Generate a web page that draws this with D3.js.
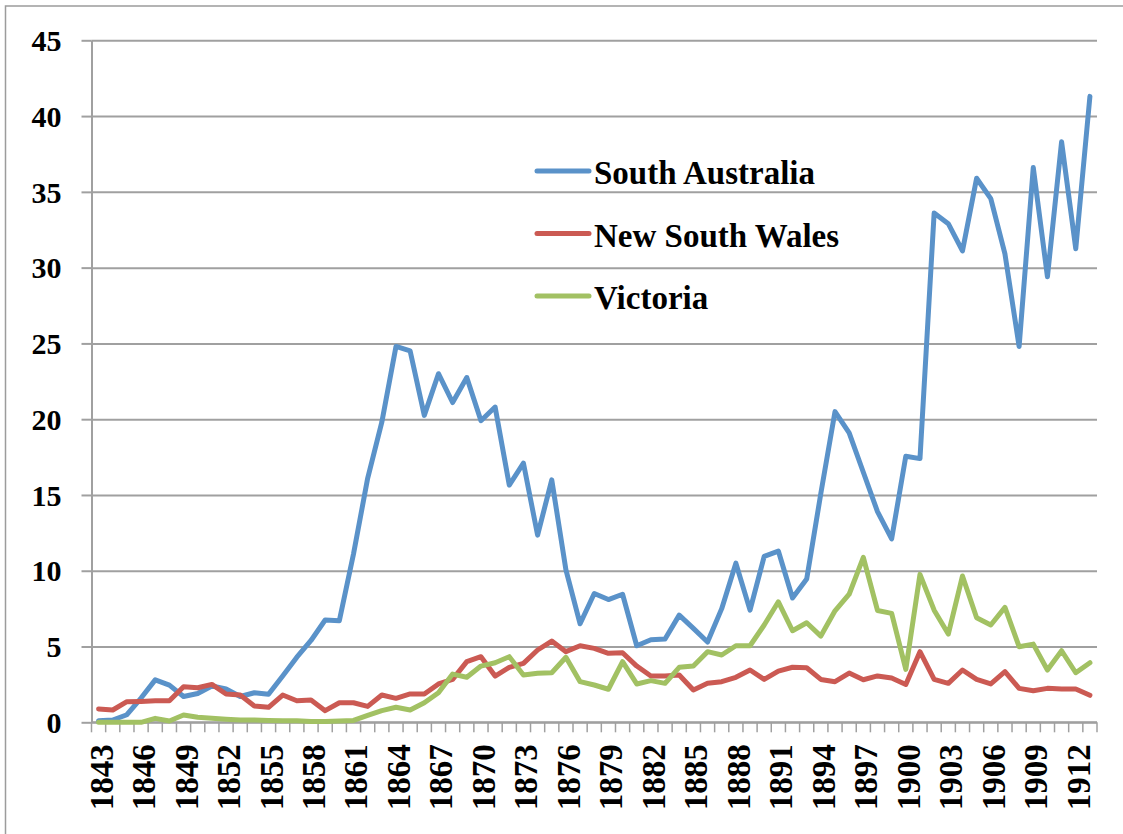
<!DOCTYPE html>
<html>
<head>
<meta charset="utf-8">
<script src="https://cdn.jsdelivr.net/npm/d3@7"></script>
<style>
  body { margin: 0; background: #fff; }
  svg text { font-family: "Liberation Serif", serif; font-weight: bold; fill: #000; }
</style>
</head>
<body>
<div id="chart"></div>
<script>
// years 1843 - 1913
var years = [];
for (var yr = 1843; yr <= 1913; yr++) years.push(yr);

var yTicks = [0, 5, 10, 15, 20, 25, 30, 35, 40, 45];
var xLabels = [1843, 1846, 1849, 1852, 1855, 1858, 1861, 1864, 1867, 1870, 1873, 1876,
  1879, 1882, 1885, 1888, 1891, 1894, 1897, 1900, 1903, 1906, 1909, 1912];

var seriesNames = ['South Australia', 'New South Wales', 'Victoria'];
var seriesColors = ['#5a92c9', '#cb5a53', '#a2c163'];

var southAustralia = [0.1, 0.15, 0.5, 1.6, 2.8, 2.45, 1.7, 1.9, 2.4, 2.2,
  1.7, 1.95, 1.85, 3.05, 4.3, 5.4, 6.75, 6.7, 11.1, 16.1,
  19.8, 24.8, 24.5, 20.25, 23.0, 21.1, 22.75, 19.9, 20.8, 15.65,
  17.1, 12.35, 16.0, 10.05, 6.5, 8.5, 8.1, 8.45, 5.05, 5.45,
  5.5, 7.07, 6.2, 5.3, 7.5, 10.5, 7.4, 10.95, 11.3, 8.2,
  9.45, 15.1, 20.5, 19.1, 16.5, 13.9, 12.1, 17.56, 17.4, 33.6,
  32.9, 31.1, 35.9, 34.55, 30.9, 24.8, 36.6, 29.4, 38.3, 31.25,
  41.3];

var newSouthWales = [0.88, 0.81, 1.36, 1.38, 1.42, 1.42, 2.35, 2.28, 2.5, 1.87,
  1.8, 1.07, 0.99, 1.8, 1.42, 1.47, 0.77, 1.29, 1.29, 1.05,
  1.8, 1.58, 1.87, 1.87, 2.53, 2.83, 4.0, 4.33, 3.05, 3.63,
  3.89, 4.77, 5.36, 4.66, 5.05, 4.88, 4.55, 4.59, 3.71, 3.05,
  3.05, 3.12, 2.13, 2.57, 2.68, 2.97, 3.45, 2.83, 3.38, 3.63,
  3.6, 2.83, 2.68, 3.25, 2.81, 3.06, 2.92, 2.5, 4.66, 2.83,
  2.57, 3.45, 2.83, 2.53, 3.34, 2.24, 2.08, 2.24, 2.2, 2.2,
  1.78];

var victoria = [0, 0, 0, 0, 0.26, 0.09, 0.48, 0.33, 0.26, 0.2,
  0.15, 0.15, 0.12, 0.1, 0.1, 0.05, 0.05, 0.08, 0.12, 0.45,
  0.77, 0.99, 0.81, 1.29, 1.95, 3.18, 2.97, 3.71, 3.93, 4.33,
  3.12, 3.23, 3.27, 4.29, 2.68, 2.46, 2.18, 4.0, 2.53, 2.75,
  2.57, 3.63, 3.71, 4.66, 4.44, 5.05, 5.05, 6.42, 7.95, 6.04,
  6.57, 5.69, 7.36, 8.45, 10.88, 7.38, 7.19, 3.49, 9.76, 7.4,
  5.82, 9.65, 6.9, 6.42, 7.58, 4.99, 5.16, 3.45, 4.72, 3.27,
  3.93];

var seriesValues = [southAustralia, newSouthWales, victoria];

var svgWidth = 1123;
var svgHeight = 834;
var margin = { left: 91.5, top: 40.3, right: 26, bottom: 111.7 };
var width = svgWidth - margin.left - margin.right;
var height = svgHeight - margin.top - margin.bottom;

var svg = d3.select('#chart').append('svg')
  .attr('width', svgWidth)
  .attr('height', svgHeight);

// outer chart frame (only top and left edges are inside the picture)
svg.append('path')
  .attr('d', 'M5.5,' + svgHeight + 'V6H' + svgWidth)
  .attr('fill', 'none')
  .attr('stroke', '#9c9c9c')
  .attr('stroke-width', 1.5);

var g = svg.append('g')
  .attr('transform', 'translate(' + margin.left + ', ' + margin.top + ')');

var xScale = d3.scaleBand()
  .domain(years)
  .range([0, width])
  .padding(0);
var yScale = d3.scaleLinear()
  .domain([0, 45])
  .range([height, 0]);

// gridlines
g.append('g')
  .attr('class', 'grid')
  .call(d3.axisLeft(yScale).tickValues(yTicks).tickSize(-width).tickFormat(''))
  .call(function (s) {
    s.select('.domain').remove();
    s.selectAll('line').attr('stroke', '#a0a0a0').attr('stroke-width', 2);
  });

// y axis
g.append('g')
  .attr('class', 'axis axis--y')
  .call(d3.axisLeft(yScale).tickValues(yTicks).tickSizeInner(10).tickSizeOuter(0).tickPadding(20))
  .call(function (s) {
    s.select('.domain').attr('stroke', '#a0a0a0').attr('stroke-width', 2);
    s.selectAll('line').attr('stroke', '#a0a0a0').attr('stroke-width', 2);
    s.selectAll('text').style('font-size', '30px').attr('dy', '0.34em');
  });

// x axis: baseline, tick marks between categories, rotated labels
var xAxisG = g.append('g')
  .attr('class', 'axis axis--x')
  .attr('transform', 'translate(0, ' + height + ')');

xAxisG.append('line')
  .attr('x1', 0).attr('x2', width)
  .attr('stroke', '#a0a0a0').attr('stroke-width', 2);

var tickEdges = years.map(function (d) { return xScale(d); }).concat([width]);
xAxisG.selectAll('.xtick')
  .data(tickEdges)
  .enter().append('line')
  .attr('class', 'xtick')
  .attr('x1', function (d) { return d; })
  .attr('x2', function (d) { return d; })
  .attr('y1', 0).attr('y2', 10)
  .attr('stroke', '#a0a0a0').attr('stroke-width', 1.5);

xAxisG.selectAll('.xlabel')
  .data(xLabels)
  .enter().append('text')
  .attr('class', 'xlabel')
  .attr('transform', function (d) {
    var cx = xScale(d) + xScale.bandwidth() / 2 + 14;
    return 'translate(' + cx + ', 22) rotate(-90)';
  })
  .attr('text-anchor', 'end')
  .style('font-size', '33px')
  .text(function (d) { return d; });

// series lines
var line = d3.line()
  .x(function (d, i) { return xScale(years[i]) + xScale.bandwidth() / 2; })
  .y(function (d) { return yScale(d); });

seriesValues.forEach(function (vals, k) {
  g.append('path')
    .datum(vals)
    .attr('class', 'line')
    .attr('fill', 'none')
    .attr('stroke', seriesColors[k])
    .attr('stroke-width', 5)
    .attr('stroke-linejoin', 'round')
    .attr('stroke-linecap', 'round')
    .attr('d', line);
});

// legend
var legend = svg.append('g')
  .attr('transform', 'translate(537, 171)');

seriesNames.forEach(function (name, k) {
  var row = legend.append('g')
    .attr('transform', 'translate(0, ' + (k * 62.5) + ')');
  row.append('line')
    .attr('x1', 0).attr('x2', 52)
    .attr('stroke', seriesColors[k])
    .attr('stroke-width', 5)
    .attr('stroke-linecap', 'round');
  row.append('text')
    .attr('x', 57)
    .attr('y', 13)
    .style('font-size', '33px')
    .text(name);
});
</script>
</body>
</html>
